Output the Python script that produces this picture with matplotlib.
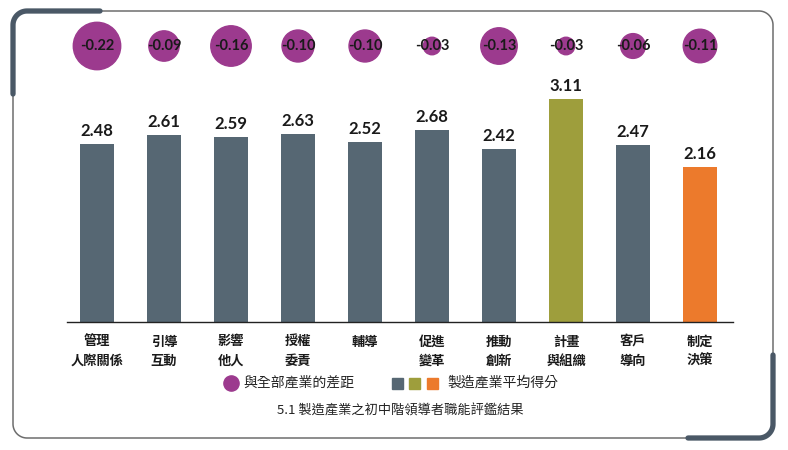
import numpy as np
import matplotlib.pyplot as plt
from matplotlib.patches import Rectangle

plt.rcParams['font.family'] = ['Noto Sans CJK TC', 'DejaVu Sans']

categories = ['管理\n人際關係', '引導\n互動', '影響\n他人', '授權\n委責', '輔導',
              '促進\n變革', '推動\n創新', '計畫\n與組織', '客戶\n導向', '制定\n決策']
scores = [2.48, 2.61, 2.59, 2.63, 2.52, 2.68, 2.42, 3.11, 2.47, 2.16]
gaps = [-0.22, -0.09, -0.16, -0.10, -0.10, -0.03, -0.13, -0.03, -0.06, -0.11]

slate = '#566773'
olive = '#9e9e3c'
orange = '#ec7a2c'
purple = '#9c3a8e'
colors = [slate] * len(scores)
colors[7] = olive
colors[9] = orange
num_font = ['Lato', 'DejaVu Sans']

W, H = 788, 450
fig = plt.figure(figsize=(W / 100, H / 100), dpi=100)

# background axes in pixel coordinates for frame / legend / caption
bg = fig.add_axes([0, 0, 1, 1])
bg.set_xlim(0, W)
bg.set_ylim(H, 0)
bg.axis('off')

L, T, R, B, r = 13, 11, 773, 438, 14
t = np.linspace(0, np.pi / 2, 20)
# thin full frame
xs = np.concatenate([[L + r, R - r], R - r + r * np.sin(t), [R, R], R - r + r * np.cos(t),
                     [R - r, L + r], L + r - r * np.sin(t), [L, L], L + r - r * np.cos(t)])
ys = np.concatenate([[T, T], T + r - r * np.cos(t), [T + r, B - r], B - r + r * np.sin(t),
                     [B, B], B - r + r * np.cos(t), [B - r, T + r], T + r - r * np.sin(t)])
bg.plot(xs, ys, color='#6d6d6d', lw=1.1, solid_capstyle='round')
# thick corner accents
ax_ = np.concatenate([[L, L], L + r - r * np.cos(t), [L + r, 100]])
ay_ = np.concatenate([[94, T + r], T + r - r * np.sin(t), [T, T]])
bg.plot(ax_, ay_, color='#4a5866', lw=3.8, solid_capstyle='round')
bx_ = np.concatenate([[R, R], R - r + r * np.cos(t), [R - r, 688]])
by_ = np.concatenate([[355, B - r], B - r + r * np.sin(t), [B, B]])
bg.plot(bx_, by_, color='#4a5866', lw=3.8, solid_capstyle='round')

# legend
bg.scatter([231], [383], s=120, color=purple, zorder=3)
bg.text(243, 383, '與全部產業的差距', fontsize=10, va='center', ha='left', color='#222222')
for i, c in enumerate([slate, olive, orange]):
    bg.add_patch(Rectangle((392 + 17.5 * i, 378), 11, 11, color=c))
bg.text(447, 383, '製造產業平均得分', fontsize=10, va='center', ha='left', color='#222222')
bg.text(400, 411, '5.1 製造產業之初中階領導者職能評鑑結果', fontsize=9.5, va='center',
        ha='center', color='#222222')

# main axes: baseline at y=322px, 0 at x=97px, spacing 67px
x0, x1 = 67, 733
y_base, y_top = 322, 10
ax = fig.add_axes([x0 / W, 1 - y_base / H, (x1 - x0) / W, (y_base - y_top) / H])
ax.patch.set_alpha(0)
ppu = 71.6
ax.set_xlim(-30 / 67, 9 + 33 / 67)
ax.set_ylim(0, (y_base - y_top) / ppu)
x = np.arange(len(scores))
ax.bar(x, scores, width=0.51, color=colors, zorder=2)
for xi, v in zip(x, scores):
    ax.text(xi, v + 0.07, f'{v:.2f}', ha='center', va='bottom', fontsize=12,
            fontweight='bold', color='#1a1a1a', family=num_font)

circle_y = (y_base - 46) / ppu
ax.scatter(x, [circle_y] * len(x), s=[abs(g) * 5300 for g in gaps], color=purple,
           zorder=3, clip_on=False)
for xi, g in zip(x, gaps):
    ax.text(xi, circle_y, f'{g:.2f}', ha='center', va='center', fontsize=10.5,
            fontweight='bold', color='#1a1a1a', zorder=4, family=num_font)

for s in ['top', 'right', 'left']:
    ax.spines[s].set_visible(False)
ax.spines['bottom'].set_color('#222222')
ax.spines['bottom'].set_linewidth(1.0)
ax.set_yticks([])
ax.set_xticks(x)
ax.set_xticklabels(categories, fontsize=9.5, fontweight='bold', color='#1a1a1a',
                   linespacing=1.5)
ax.tick_params(axis='x', length=0, pad=9)

fig.savefig('out.png', dpi=100)
